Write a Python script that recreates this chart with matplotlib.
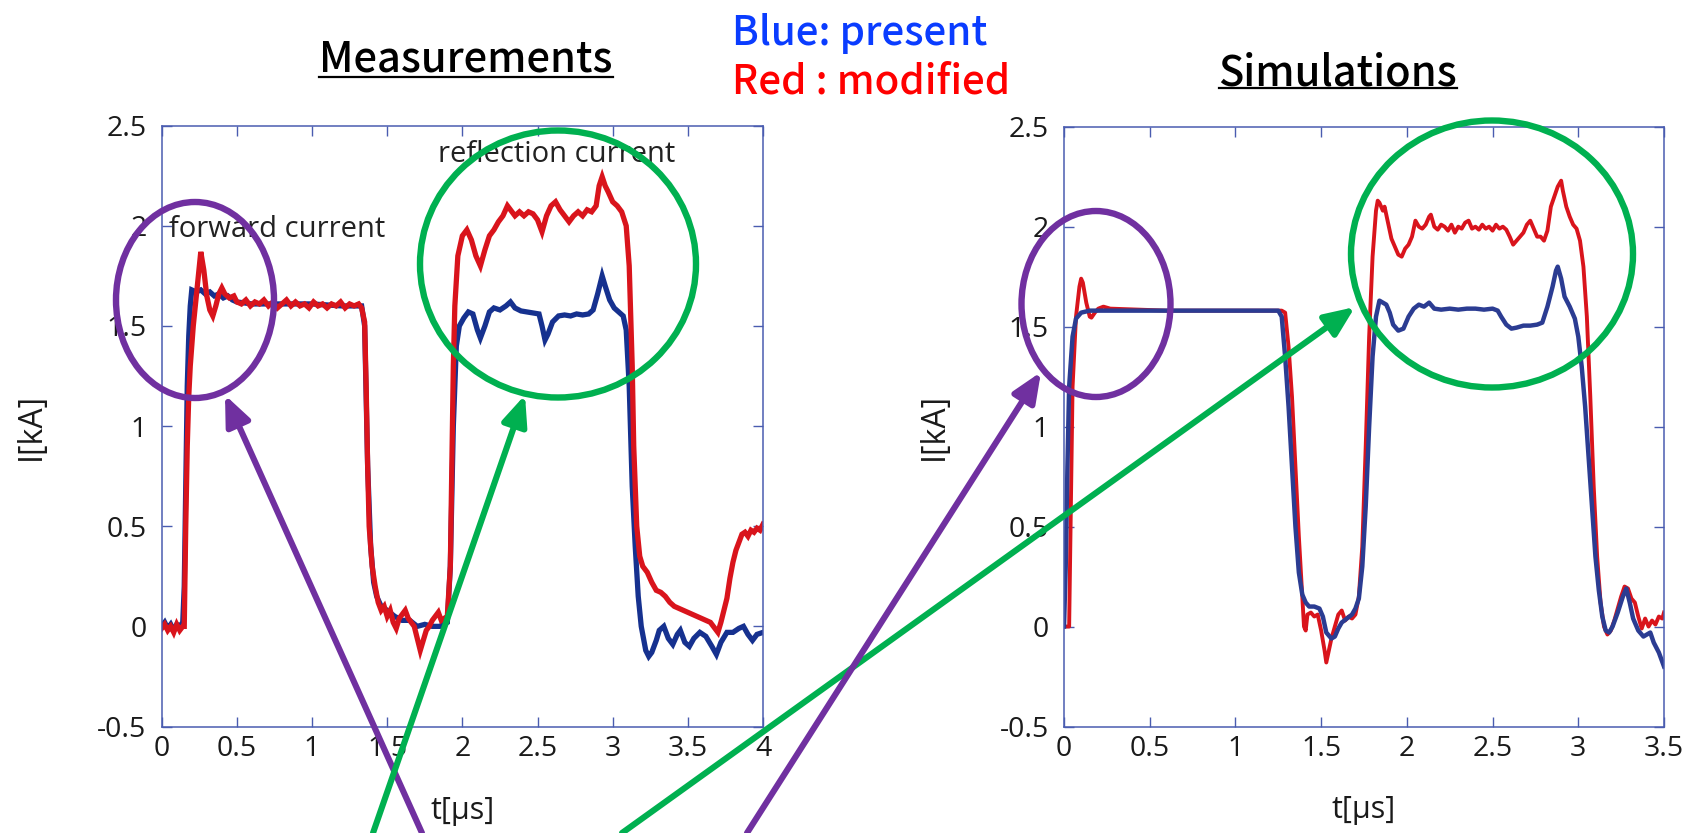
import matplotlib
matplotlib.use("Agg")
import matplotlib.pyplot as plt
from matplotlib.patches import Ellipse, FancyArrowPatch
from matplotlib.lines import Line2D

W, H = 1689, 833

# --- measured currents -------------------------------------------------
meas_t_present = [0.00, 0.02, 0.04, 0.06, 0.08, 0.10, 0.12, 0.14, 0.15, 0.16, 0.17, 0.18, 0.19, 0.20,
                  0.23, 0.26, 0.29, 0.32, 0.35, 0.38, 0.41, 0.44, 0.47, 0.50, 0.60, 0.80, 1.00, 1.20,
                  1.33, 1.35, 1.37, 1.39, 1.41, 1.43, 1.46, 1.50, 1.55, 1.60, 1.65, 1.70, 1.75, 1.80,
                  1.85, 1.90, 1.92, 1.94, 1.96, 1.98, 2.01, 2.04, 2.07, 2.10, 2.12, 2.15, 2.18, 2.21,
                  2.25, 2.29, 2.32, 2.35, 2.39, 2.43, 2.47, 2.51, 2.53, 2.55, 2.57, 2.60, 2.64, 2.68,
                  2.72, 2.76, 2.80, 2.84, 2.87, 2.90, 2.93, 2.95, 2.98, 3.01, 3.04, 3.07, 3.09, 3.11,
                  3.13, 3.15, 3.17, 3.19, 3.22, 3.24, 3.26, 3.29, 3.31, 3.34, 3.37, 3.40, 3.43, 3.45,
                  3.48, 3.51, 3.54, 3.58, 3.62, 3.66, 3.69, 3.72, 3.76, 3.80, 3.84, 3.87, 3.90, 3.93,
                  3.96, 4.00]
meas_i_present = [0.00, 0.02, -0.01, 0.01, -0.02, 0.01, 0.00, 0.02, 0.20, 0.70, 1.20, 1.45, 1.60, 1.68,
                  1.67, 1.68, 1.66, 1.67, 1.65, 1.66, 1.64, 1.65, 1.63, 1.62, 1.61, 1.61, 1.61, 1.60,
                  1.60, 1.50, 0.80, 0.40, 0.22, 0.15, 0.10, 0.08, 0.05, 0.03, 0.03, 0.00, 0.01, 0.00,
                  0.00, 0.02, 0.30, 1.00, 1.40, 1.50, 1.54, 1.57, 1.56, 1.48, 1.44, 1.50, 1.57, 1.59,
                  1.58, 1.60, 1.62, 1.59, 1.575, 1.57, 1.565, 1.56, 1.50, 1.43, 1.46, 1.52, 1.55, 1.555,
                  1.55, 1.56, 1.555, 1.56, 1.58, 1.66, 1.75, 1.70, 1.63, 1.59, 1.57, 1.55, 1.48, 1.20,
                  0.70, 0.40, 0.15, 0.00, -0.12, -0.15, -0.13, -0.07, -0.02, 0.00, -0.06, -0.09, -0.04, -0.02,
                  -0.08, -0.10, -0.06, -0.03, -0.05, -0.10, -0.14, -0.08, -0.03, -0.03, -0.01, 0.00, -0.04, -0.07,
                  -0.04, -0.03]

meas_t_modified = [0.00, 0.02, 0.04, 0.06, 0.08, 0.10, 0.12, 0.14, 0.15, 0.16, 0.17, 0.18, 0.19, 0.21,
                   0.23, 0.26, 0.28, 0.30, 0.32, 0.34, 0.36, 0.38, 0.40, 0.42, 0.45, 0.48, 0.50, 0.53,
                   0.56, 0.59, 0.62, 0.65, 0.68, 0.71, 0.74, 0.77, 0.80, 0.83, 0.86, 0.89, 0.92, 0.95,
                   0.98, 1.01, 1.04, 1.07, 1.10, 1.13, 1.16, 1.19, 1.22, 1.25, 1.28, 1.31, 1.33, 1.35,
                   1.36, 1.37, 1.38, 1.40, 1.42, 1.44, 1.46, 1.48, 1.50, 1.52, 1.54, 1.56, 1.58, 1.60,
                   1.62, 1.64, 1.66, 1.68, 1.70, 1.72, 1.74, 1.76, 1.78, 1.80, 1.82, 1.84, 1.86, 1.88,
                   1.90, 1.92, 1.93, 1.94, 1.95, 1.97, 2.00, 2.03, 2.06, 2.09, 2.12, 2.15, 2.18, 2.21,
                   2.24, 2.27, 2.30, 2.32, 2.35, 2.38, 2.41, 2.44, 2.47, 2.50, 2.53, 2.56, 2.59, 2.62,
                   2.65, 2.68, 2.71, 2.74, 2.77, 2.80, 2.83, 2.86, 2.89, 2.91, 2.93, 2.95, 2.97, 3.00,
                   3.03, 3.06, 3.09, 3.11, 3.13, 3.14, 3.16, 3.18, 3.20, 3.23, 3.26, 3.29, 3.32, 3.35,
                   3.38, 3.41, 3.44, 3.47, 3.50, 3.53, 3.56, 3.59, 3.62, 3.65, 3.68, 3.70, 3.72, 3.74,
                   3.76, 3.78, 3.80, 3.82, 3.84, 3.86, 3.88, 3.90, 3.92, 3.94, 3.96, 3.98, 4.00]
meas_i_modified = [-0.01, 0.01, -0.02, 0.00, -0.03, 0.01, -0.02, 0.00, 0.00, 0.50, 0.90, 1.15, 1.30, 1.50,
                   1.65, 1.87, 1.78, 1.65, 1.58, 1.55, 1.60, 1.66, 1.69, 1.66, 1.64, 1.65, 1.62, 1.61,
                   1.63, 1.60, 1.62, 1.61, 1.63, 1.60, 1.62, 1.59, 1.61, 1.63, 1.60, 1.62, 1.60, 1.61,
                   1.59, 1.62, 1.60, 1.61, 1.59, 1.61, 1.60, 1.62, 1.59, 1.61, 1.60, 1.61, 1.59, 1.52,
                   1.20, 0.80, 0.50, 0.30, 0.20, 0.12, 0.08, 0.10, 0.05, 0.08, 0.02, -0.01, 0.04, 0.06,
                   0.08, 0.04, 0.02, 0.00, -0.06, -0.12, -0.07, -0.02, 0.00, 0.03, 0.05, 0.07, 0.03, 0.04,
                   0.05, 0.30, 0.80, 1.30, 1.60, 1.85, 1.95, 1.98, 1.93, 1.85, 1.80, 1.88, 1.95, 1.98,
                   2.02, 2.05, 2.10, 2.08, 2.05, 2.07, 2.05, 2.07, 2.06, 2.03, 1.97, 2.05, 2.10, 2.12,
                   2.08, 2.05, 2.02, 2.05, 2.07, 2.05, 2.08, 2.07, 2.10, 2.20, 2.245, 2.20, 2.17, 2.12,
                   2.10, 2.07, 2.00, 1.80, 1.30, 0.90, 0.50, 0.35, 0.30, 0.27, 0.22, 0.18, 0.17, 0.15,
                   0.12, 0.10, 0.09, 0.08, 0.07, 0.06, 0.05, 0.04, 0.03, 0.02, -0.01, -0.03, 0.02, 0.08,
                   0.14, 0.24, 0.32, 0.38, 0.42, 0.46, 0.47, 0.45, 0.48, 0.47, 0.49, 0.48, 0.51]

# --- simulated currents ------------------------------------------------
sim_t_present = [0.00, 0.01, 0.02, 0.03, 0.05, 0.07, 0.10, 0.15, 0.50, 1.00, 1.25, 1.27, 1.29, 1.31,
                 1.33, 1.35, 1.37, 1.39, 1.41, 1.43, 1.46, 1.49, 1.51, 1.53, 1.56, 1.58, 1.60, 1.62,
                 1.65, 1.68, 1.70, 1.72, 1.74, 1.76, 1.78, 1.80, 1.82, 1.84, 1.86, 1.88, 1.90, 1.92,
                 1.95, 1.98, 2.01, 2.04, 2.07, 2.10, 2.13, 2.16, 2.20, 2.25, 2.30, 2.35, 2.40, 2.45,
                 2.50, 2.53, 2.55, 2.58, 2.61, 2.64, 2.68, 2.72, 2.76, 2.79, 2.82, 2.85, 2.87, 2.88,
                 2.90, 2.92, 2.95, 2.98, 3.00, 3.02, 3.04, 3.06, 3.08, 3.10, 3.12, 3.14, 3.16, 3.18,
                 3.20, 3.23, 3.26, 3.28, 3.30, 3.32, 3.35, 3.38, 3.40, 3.42, 3.44, 3.47, 3.50]
sim_i_present = [0.00, 0.30, 0.80, 1.20, 1.45, 1.54, 1.57, 1.58, 1.58, 1.58, 1.58, 1.55, 1.35, 1.10,
                 0.80, 0.50, 0.27, 0.16, 0.12, 0.10, 0.10, 0.09, 0.05, -0.03, -0.06, -0.05, -0.01, 0.02,
                 0.04, 0.06, 0.09, 0.14, 0.30, 0.60, 1.00, 1.35, 1.55, 1.63, 1.62, 1.61, 1.57, 1.51,
                 1.48, 1.49, 1.55, 1.59, 1.61, 1.60, 1.62, 1.59, 1.585, 1.59, 1.585, 1.59, 1.59, 1.585,
                 1.59, 1.58, 1.55, 1.51, 1.49, 1.495, 1.505, 1.505, 1.51, 1.52, 1.60, 1.70, 1.78, 1.80,
                 1.74, 1.65, 1.60, 1.54, 1.45, 1.30, 1.10, 0.85, 0.60, 0.35, 0.18, 0.05, -0.02, -0.03,
                 0.00, 0.07, 0.15, 0.19, 0.12, 0.04, -0.02, -0.05, -0.04, -0.03, -0.08, -0.13, -0.20]

sim_t_modified = [0.00, 0.03, 0.04, 0.05, 0.07, 0.09, 0.10, 0.11, 0.13, 0.15, 0.16, 0.18, 0.20, 0.23,
                  0.27, 0.60, 1.00, 1.27, 1.29, 1.31, 1.33, 1.35, 1.37, 1.39, 1.40, 1.41, 1.42, 1.44,
                  1.46, 1.48, 1.50, 1.52, 1.53, 1.54, 1.56, 1.58, 1.60, 1.62, 1.64, 1.66, 1.68, 1.70,
                  1.72, 1.74, 1.76, 1.78, 1.80, 1.82, 1.83, 1.84, 1.86, 1.87, 1.89, 1.91, 1.93, 1.95,
                  1.97, 1.99, 2.01, 2.03, 2.05, 2.07, 2.09, 2.11, 2.13, 2.14, 2.16, 2.18, 2.20, 2.22,
                  2.24, 2.26, 2.28, 2.30, 2.32, 2.34, 2.36, 2.38, 2.40, 2.42, 2.44, 2.46, 2.48, 2.50,
                  2.52, 2.54, 2.56, 2.58, 2.60, 2.62, 2.64, 2.66, 2.68, 2.70, 2.72, 2.74, 2.76, 2.78,
                  2.80, 2.82, 2.84, 2.86, 2.88, 2.90, 2.91, 2.93, 2.95, 2.97, 2.99, 3.01, 3.03, 3.05,
                  3.07, 3.09, 3.11, 3.13, 3.15, 3.17, 3.19, 3.21, 3.23, 3.25, 3.27, 3.29, 3.31, 3.33,
                  3.35, 3.37, 3.39, 3.41, 3.43, 3.45, 3.47, 3.49, 3.50]
sim_i_modified = [0.00, 0.00, 0.60, 1.20, 1.55, 1.70, 1.74, 1.72, 1.62, 1.55, 1.545, 1.57, 1.59, 1.60,
                  1.59, 1.58, 1.58, 1.58, 1.57, 1.40, 1.15, 0.80, 0.45, 0.15, 0.00, -0.02, 0.06, 0.07,
                  0.05, 0.06, -0.02, -0.12, -0.18, -0.14, -0.06, 0.00, 0.06, 0.08, 0.03, 0.05, 0.04, 0.06,
                  0.15, 0.40, 0.90, 1.45, 1.85, 2.08, 2.13, 2.12, 2.08, 2.10, 2.02, 1.94, 1.90, 1.86,
                  1.85, 1.89, 1.91, 1.95, 2.03, 2.00, 1.99, 2.01, 2.05, 2.06, 2.00, 1.985, 2.01, 2.00,
                  1.98, 2.01, 1.97, 2.00, 1.99, 2.02, 2.03, 1.99, 2.00, 1.985, 2.01, 1.99, 2.00, 1.98,
                  2.01, 1.99, 2.00, 1.985, 1.95, 1.91, 1.93, 1.95, 1.97, 2.01, 2.03, 1.99, 1.95, 1.95,
                  1.93, 1.98, 2.10, 2.15, 2.20, 2.23, 2.18, 2.10, 2.05, 2.01, 1.99, 1.93, 1.80, 1.55,
                  1.15, 0.70, 0.35, 0.12, 0.00, -0.04, -0.02, 0.03, 0.09, 0.15, 0.20, 0.19, 0.14, 0.12,
                  0.05, -0.01, 0.04, 0.00, 0.03, 0.01, 0.05, 0.04, 0.07]

x_ticks_meas = [0, 0.5, 1, 1.5, 2, 2.5, 3, 3.5, 4]
x_ticks_sim = [0, 0.5, 1, 1.5, 2, 2.5, 3, 3.5]
y_ticks = [-0.5, 0, 0.5, 1, 1.5, 2, 2.5]

RED = '#d9141c'
NAVY = '#16318f'
SIM_BLUE = '#2b3c92'
FRAME = '#4a5cb0'
PURPLE = '#7030a0'
GREEN = '#00b050'

TICK_FONT = ['Open Sans', 'DejaVu Sans']
HEAD_FONT = ['Noto Sans CJK JP', 'DejaVu Sans']


def fx(px):
    return px / W


def fy(py):
    return 1 - py / H


def tick_label(v):
    return '%g' % v


def style_axes(ax, xmax, xticks):
    ax.set_xlim(0, xmax)
    ax.set_ylim(-0.5, 2.5)
    ax.set_xticks(xticks)
    ax.set_yticks(y_ticks)
    ax.set_xticklabels([tick_label(v) for v in xticks], family=TICK_FONT, fontsize=20.5, color='#1a1a1a')
    ax.set_yticklabels([tick_label(v) for v in y_ticks], family=TICK_FONT, fontsize=20.5, color='#1a1a1a')
    ax.tick_params(direction='in', top=True, right=True, length=7.5, width=1.0, color=FRAME)
    ax.tick_params(axis='x', pad=6)
    ax.tick_params(axis='y', pad=11)
    for s in ax.spines.values():
        s.set_color(FRAME)
        s.set_linewidth(1.1)
    ax.set_xlabel('t[μs]', family=TICK_FONT, fontsize=22, color='#1a1a1a')
    ax.set_ylabel('I[kA]', family=TICK_FONT, fontsize=23, color='#1a1a1a')
    ax.xaxis.label.set_va('center')
    ax.xaxis.set_label_coords(0.5, -0.14)
    ax.yaxis.label.set_va('center')
    ax.yaxis.set_label_coords(-0.216, 0.5)


fig = plt.figure(figsize=(W / 100, H / 100), dpi=100)

ax1 = fig.add_axes([fx(161.7), fy(726.5), (763 - 161.7) / W, (726.5 - 125.7) / H])
ax1.plot(meas_t_present, meas_i_present, color=NAVY, lw=3.8, solid_joinstyle='miter')
ax1.plot(meas_t_modified, meas_i_modified, color=RED, lw=3.8, solid_joinstyle='miter')
style_axes(ax1, 4, x_ticks_meas)
ax1.text(0.05, 1.945, 'forward current', family=TICK_FONT, fontsize=21, color='#222222', va='baseline')
ax1.text(1.84, 2.32, 'reflection current', family=TICK_FONT, fontsize=21, color='#222222', va='baseline')

ax2 = fig.add_axes([fx(1064), fy(726.5), (1664 - 1064) / W, (726.5 - 126.7) / H])
ax2.plot(sim_t_modified, sim_i_modified, color=RED, lw=2.8)
ax2.plot(sim_t_present, sim_i_present, color=SIM_BLUE, lw=3.2)
style_axes(ax2, 3.5, x_ticks_sim)

# headings and colour key
t1 = fig.text(fx(466), fy(72), 'Measurements', family=HEAD_FONT, fontsize=30, weight='medium',
              ha='center', va='baseline')
t2 = fig.text(fx(1338), fy(85), 'Simulations', family=HEAD_FONT, fontsize=30, weight='medium',
              ha='center', va='baseline')
fig.text(fx(732), fy(45), 'Blue: present', family=HEAD_FONT, fontsize=29, weight='medium',
         color='#0a3cff', va='baseline')
fig.text(fx(732), fy(93), 'Red : modified', family=HEAD_FONT, fontsize=29, weight='medium',
         color='#ff0000', va='baseline')

fig.canvas.draw()
r = fig.canvas.get_renderer()
for t, uy in [(t1, 77), (t2, 88)]:
    bb = t.get_window_extent(r)
    fig.add_artist(Line2D([bb.x0 / W, bb.x1 / W], [fy(uy), fy(uy)], transform=fig.transFigure,
                          color='black', lw=1.6))

# highlight rings
rings = [(195, 300, 158, 196, PURPLE), (558, 264, 276, 267, GREEN),
         (1096, 304, 149, 186, PURPLE), (1492, 254, 282, 267, GREEN)]
for cx, cy, w, h, c in rings:
    fig.add_artist(Ellipse((fx(cx), fy(cy)), w / W, h / H, transform=fig.transFigure,
                           fill=False, edgecolor=c, lw=4.6, zorder=10))

# pointers
arrows = [((422, 833), (225, 395), PURPLE), ((373, 833), (525, 395), GREEN),
          ((622, 833), (1355, 307), GREEN), ((747, 833), (1041, 372), PURPLE)]
for (x0, y0), (x1, y1), c in arrows:
    fig.add_artist(FancyArrowPatch((fx(x0), fy(y0)), (fx(x1), fy(y1)), transform=fig.transFigure,
                                   arrowstyle='-|>,head_length=0.75,head_width=0.32', mutation_scale=24,
                                   color=c, lw=4.4, shrinkA=0, shrinkB=0, zorder=11))

fig.savefig('out.png', dpi=100)
